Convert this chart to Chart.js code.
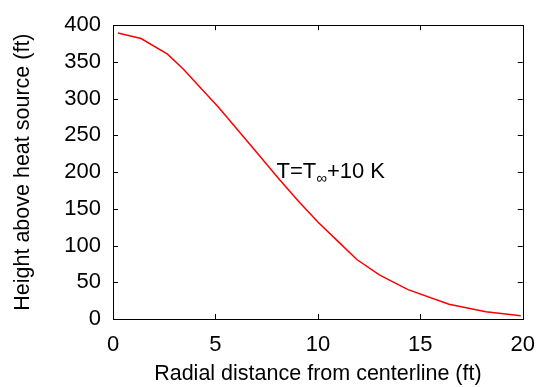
<!DOCTYPE html>
<html>
<head>
<meta charset="utf-8">
<script src="https://cdn.jsdelivr.net/npm/chart.js@4.4.1/dist/chart.umd.min.js"></script>
<style>
  html, body { margin: 0; padding: 0; background: #fff; }
  #wrap { width: 548px; height: 387px; position: relative; }
</style>
</head>
<body>
<div id="wrap"><canvas id="c" width="548" height="387"></canvas></div>
<script>
// Data
const radialDistance = [0.24, 1.37, 2.66, 3.44, 4.2, 5.16, 6.13, 7.1, 8.06, 9.03, 10.0, 10.97, 11.9, 13.0, 14.4, 16.4, 18.2, 19.9];
const heightAbove    = [389.4, 381.8, 360.5, 340, 317, 288, 256, 224, 192, 161, 132, 106, 81, 60, 40, 20, 10, 4.5];
const xTickValues = [0, 5, 10, 15, 20];
const yTickValues = [0, 50, 100, 150, 200, 250, 300, 350, 400];
const curveLabel = { main: 'T=T', sub: '\u221E', rest: '+10 K', x: 7.98, y: 192.6 };
const xTitle = 'Radial distance from centerline (ft)';
const yTitle = 'Height above heat source (ft)';

const FONT = "'Liberation Sans', Arial, Helvetica, sans-serif";
const FS = 22;
const TFS = 21.5;

const framePlugin = {
  id: 'frame',
  afterDatasetsDraw(chart) {
    const { ctx, chartArea: a, scales: { x, y } } = chart;
    ctx.save();
    ctx.strokeStyle = '#000';
    ctx.lineWidth = 1;
    ctx.beginPath();
    const L = 5;
    xTickValues.forEach(v => {
      const px = Math.round(x.getPixelForValue(v)) + 0.5;
      if (v === x.min || v === x.max) return;
      ctx.moveTo(px, a.bottom); ctx.lineTo(px, a.bottom - L);
      ctx.moveTo(px, a.top); ctx.lineTo(px, a.top + L);
    });
    yTickValues.forEach(v => {
      const py = Math.round(y.getPixelForValue(v)) + 0.5;
      if (v === y.min || v === y.max) return;
      ctx.moveTo(a.left, py); ctx.lineTo(a.left + L, py);
      ctx.moveTo(a.right, py); ctx.lineTo(a.right - L, py);
    });
    ctx.stroke();
    ctx.strokeRect(Math.round(a.left) + 0.5, Math.round(a.top) + 0.5,
                   Math.round(a.right - a.left), Math.round(a.bottom - a.top));
    // curve label
    const lx = x.getPixelForValue(curveLabel.x);
    const ly = y.getPixelForValue(curveLabel.y);
    ctx.fillStyle = '#000';
    ctx.textBaseline = 'alphabetic';
    ctx.textAlign = 'left';
    ctx.font = FS + 'px ' + FONT;
    ctx.fillText(curveLabel.main, lx, ly);
    let w = ctx.measureText(curveLabel.main).width;
    ctx.font = '15px ' + FONT;
    ctx.fillText(curveLabel.sub, lx + w, ly + 5);
    w += ctx.measureText(curveLabel.sub).width;
    ctx.font = FS + 'px ' + FONT;
    ctx.fillText(curveLabel.rest, lx + w, ly);
    ctx.restore();
  }
};

new Chart(document.getElementById('c'), {
  type: 'line',
  data: {
    datasets: [{
      data: radialDistance.map((r, i) => ({ x: r, y: heightAbove[i] })),
      borderColor: '#ff0000',
      borderWidth: 1.5,
      pointRadius: 0,
      tension: 0,
      fill: false
    }]
  },
  options: {
    responsive: false,
    animation: false,
    devicePixelRatio: 1,
    layout: { padding: { left: 0, top: 18, right: 21, bottom: 0 } },
    plugins: { legend: { display: false }, tooltip: { enabled: false } },
    scales: {
      x: {
        type: 'linear', min: 0, max: 20,
        afterBuildTicks: s => { s.ticks = xTickValues.map(v => ({ value: v })); },
        afterFit: s => { s.height = 68; },
        grid: { display: false, drawTicks: false },
        border: { display: false },
        ticks: { color: '#000', padding: 13, font: { family: FONT, size: FS } },
        title: { display: true, text: xTitle, color: '#000', font: { family: FONT, size: TFS }, padding: { top: 0, bottom: 0 } }
      },
      y: {
        type: 'linear', min: 0, max: 400,
        afterBuildTicks: s => { s.ticks = yTickValues.map(v => ({ value: v })); },
        afterFit: s => { s.width = 113; },
        grid: { display: false, drawTicks: false },
        border: { display: false },
        ticks: { color: '#000', padding: 12, font: { family: FONT, size: FS } },
        title: { display: true, text: yTitle, color: '#000', font: { family: FONT, size: TFS }, padding: { top: 10, bottom: 0 } }
      }
    }
  },
  plugins: [framePlugin]
});
</script>
</body>
</html>
